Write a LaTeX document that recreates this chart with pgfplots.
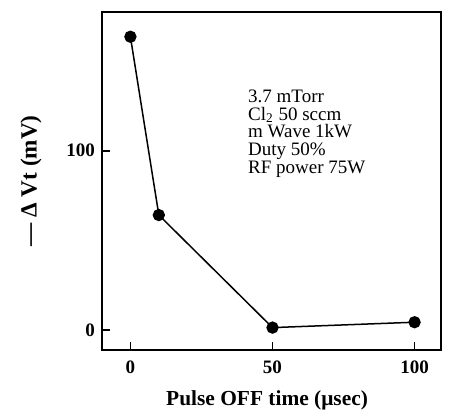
\documentclass[border=0pt]{standalone}
\usepackage{pgfplots}
\pgfplotsset{compat=1.18}
\usepackage{fontspec}
\setmainfont{Liberation Serif}
\begin{document}
\begin{tikzpicture}
\useasboundingbox (-51pt,-34.5pt) rectangle (174pt,175pt);
\begin{axis}[
at={(0,0)}, anchor=south west,
scale only axis,
width=169.5pt, height=169pt,
xmin=-10, xmax=109.3,
ymin=-11.2, ymax=177.4,
xtick={0,50,100}, ytick={0,100},
tick align=inside,
major tick length=4pt,
xtick pos=bottom, ytick pos=left,
axis line style={line width=1pt},
tick style={line width=0.8pt, black},
tick label style={font=\bfseries\fontsize{9.5}{10}\selectfont},
xticklabel style={yshift=-2pt},
/pgf/number format/assume math mode=true,
xlabel={Pulse OFF time (μsec)},
ylabel={--- Δ Vt (mV)},
label style={font=\bfseries\fontsize{10.7}{12}\selectfont},
xlabel style={at={(axis description cs:0.487,-0.148)}, anchor=center},
ylabel style={at={(axis description cs:-0.209,0.5)}, anchor=center,
  font=\bfseries\fontsize{11.6}{13}\selectfont},
]
\addplot[black, line width=0.75pt, mark=*, mark size=2.7pt]
  coordinates {(0,163.6)(10,64.1)(50,1.3)(100,4.3)};
\node[anchor=north west, align=left, inner sep=0pt,
      font=\fontsize{9.5}{8.8}\selectfont] at (axis cs:41.3,134)
  {3.7 mTorr\\Cl\textsubscript{2} 50 sccm\\m Wave 1kW\\Duty 50\%\\RF power 75W};
\end{axis}
\end{tikzpicture}
\end{document}
